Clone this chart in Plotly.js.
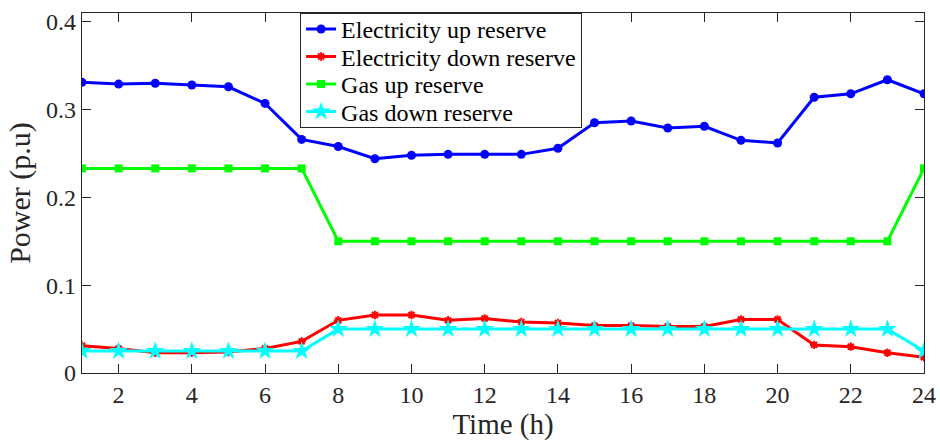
<!DOCTYPE html>
<html>
<head>
<meta charset="utf-8">
<script src="https://cdn.plot.ly/plotly-3.0.1.min.js"></script>
<style>html,body{margin:0;padding:0;background:#fff;}#chart{width:940px;height:445px;}</style>
</head>
<body>
<div id="chart"></div>
<script>
const hours = [1,2,3,4,5,6,7,8,9,10,11,12,13,14,15,16,17,18,19,20,21,22,23,24];
const elecUp = [0.331,0.329,0.330,0.328,0.326,0.307,0.266,0.258,0.244,0.248,0.249,0.249,0.249,0.256,0.285,0.287,0.279,0.281,0.265,0.262,0.314,0.318,0.334,0.318];
const elecDown = [0.031,0.028,0.023,0.023,0.024,0.028,0.036,0.060,0.066,0.066,0.060,0.062,0.058,0.057,0.054,0.054,0.053,0.053,0.061,0.061,0.032,0.030,0.023,0.018];
const gasUp = [0.233,0.233,0.233,0.233,0.233,0.233,0.233,0.150,0.150,0.150,0.150,0.150,0.150,0.150,0.150,0.150,0.150,0.150,0.150,0.150,0.150,0.150,0.150,0.233];
const gasDown = [0.025,0.025,0.025,0.025,0.025,0.025,0.025,0.050,0.050,0.050,0.050,0.050,0.050,0.050,0.050,0.050,0.050,0.050,0.050,0.050,0.050,0.050,0.050,0.025];
const names = ["Electricity up reserve","Electricity down reserve","Gas up reserve","Gas down reserve"];
const xTicks = [2,4,6,8,10,12,14,16,18,20,22,24];
const yTicks = [0,0.1,0.2,0.3,0.4];
const yTickText = ["0","0.1","0.2","0.3","0.4"];

const traces = [
  {x: hours, y: elecUp, name: names[0], mode: "lines+markers",
   line: {color: "#0000ff", width: 3}, marker: {symbol: "circle", size: 9, color: "#0000ff"}},
  {x: hours, y: elecDown, name: names[1], mode: "lines+markers",
   line: {color: "#ff0000", width: 3}, marker: {symbol: "asterisk-open", size: 7, color: "#ff0000", line: {color: "#ff0000", width: 2}}},
  {x: hours, y: gasUp, name: names[2], mode: "lines+markers",
   line: {color: "#00ff00", width: 3}, marker: {symbol: "square", size: 8, color: "#00ff00"}},
  {x: hours, y: gasDown, name: names[3], mode: "lines+markers",
   line: {color: "#00ffff", width: 3}, marker: {symbol: "star", size: 14, color: "#00ffff"}}
];

const SERIF = "Liberation Serif, Times New Roman, serif";
const layout = {
  width: 940, height: 445,
  margin: {l: 82, r: 16, t: 13, b: 72},
  paper_bgcolor: "#fff", plot_bgcolor: "#fff",
  font: {family: SERIF, size: 24, color: "#262626"},
  showlegend: true,
  legend: {x: 0.259, y: 1, xanchor: "left", yanchor: "top",
           bordercolor: "#262626", borderwidth: 1, bgcolor: "#fff",
           font: {family: SERIF, size: 24, color: "#000"},
           tracegroupgap: 0, itemwidth: 30},
  xaxis: {range: [1, 24], tickvals: xTicks, ticktext: xTicks.map(String),
          ticks: "inside", ticklen: 9, tickcolor: "#262626", tickwidth: 1,
          showline: true, linecolor: "#262626", linewidth: 1.3, mirror: "ticks",
          showgrid: false, zeroline: false,
          tickfont: {family: SERIF, size: 24, color: "#262626"},
          title: {text: "Time (h)", font: {family: SERIF, size: 29, color: "#262626"}, standoff: 2}},
  yaxis: {range: [0, 0.41], tickvals: yTicks, ticktext: yTickText,
          ticks: "inside", ticklen: 9, tickcolor: "#262626", tickwidth: 1,
          showline: true, linecolor: "#262626", linewidth: 1.3, mirror: "ticks",
          showgrid: false, zeroline: false,
          tickfont: {family: SERIF, size: 24, color: "#262626"},
          title: {text: "Power (p.u)", font: {family: SERIF, size: 30, color: "#262626"}, standoff: 6}}
};

// Move each legend row so the centre of its sample line lands at an even spacing
// measured on screen, whatever group transforms Plotly uses.
function tightenLegend(gd, firstCenter, spacing, boxHeight) {
  const leg = gd.querySelector("g.legend");
  if (!leg) return;
  const items = Array.from(leg.querySelectorAll("g.traces"));
  const hostTop = gd.getBoundingClientRect().top;
  const parse = el => {
    const m = /translate\(\s*([-\d.]+)[ ,]+([-\d.]+)/.exec(el.getAttribute("transform") || "");
    return m ? [parseFloat(m[1]), parseFloat(m[2])] : [0, 0];
  };
  items.forEach((el, i) => {
    const ref = el.querySelector("path.js-line") || el.querySelector(".legendpoints path") || el;
    const r = ref.getBoundingClientRect();
    const current = (r.top + r.bottom) / 2 - hostTop;
    const target = firstCenter + i * spacing;
    const p = parse(el);
    el.setAttribute("transform", "translate(" + p[0] + "," + (p[1] + target - current) + ")");
  });
  const bg = leg.querySelector("rect.bg");
  if (bg) bg.setAttribute("height", boxHeight);
}

Plotly.newPlot("chart", traces, layout, {displayModeBar: false, staticPlot: true})
  .then(gd => tightenLegend(gd, 29, 27.5, 114));
</script>
</body>
</html>
